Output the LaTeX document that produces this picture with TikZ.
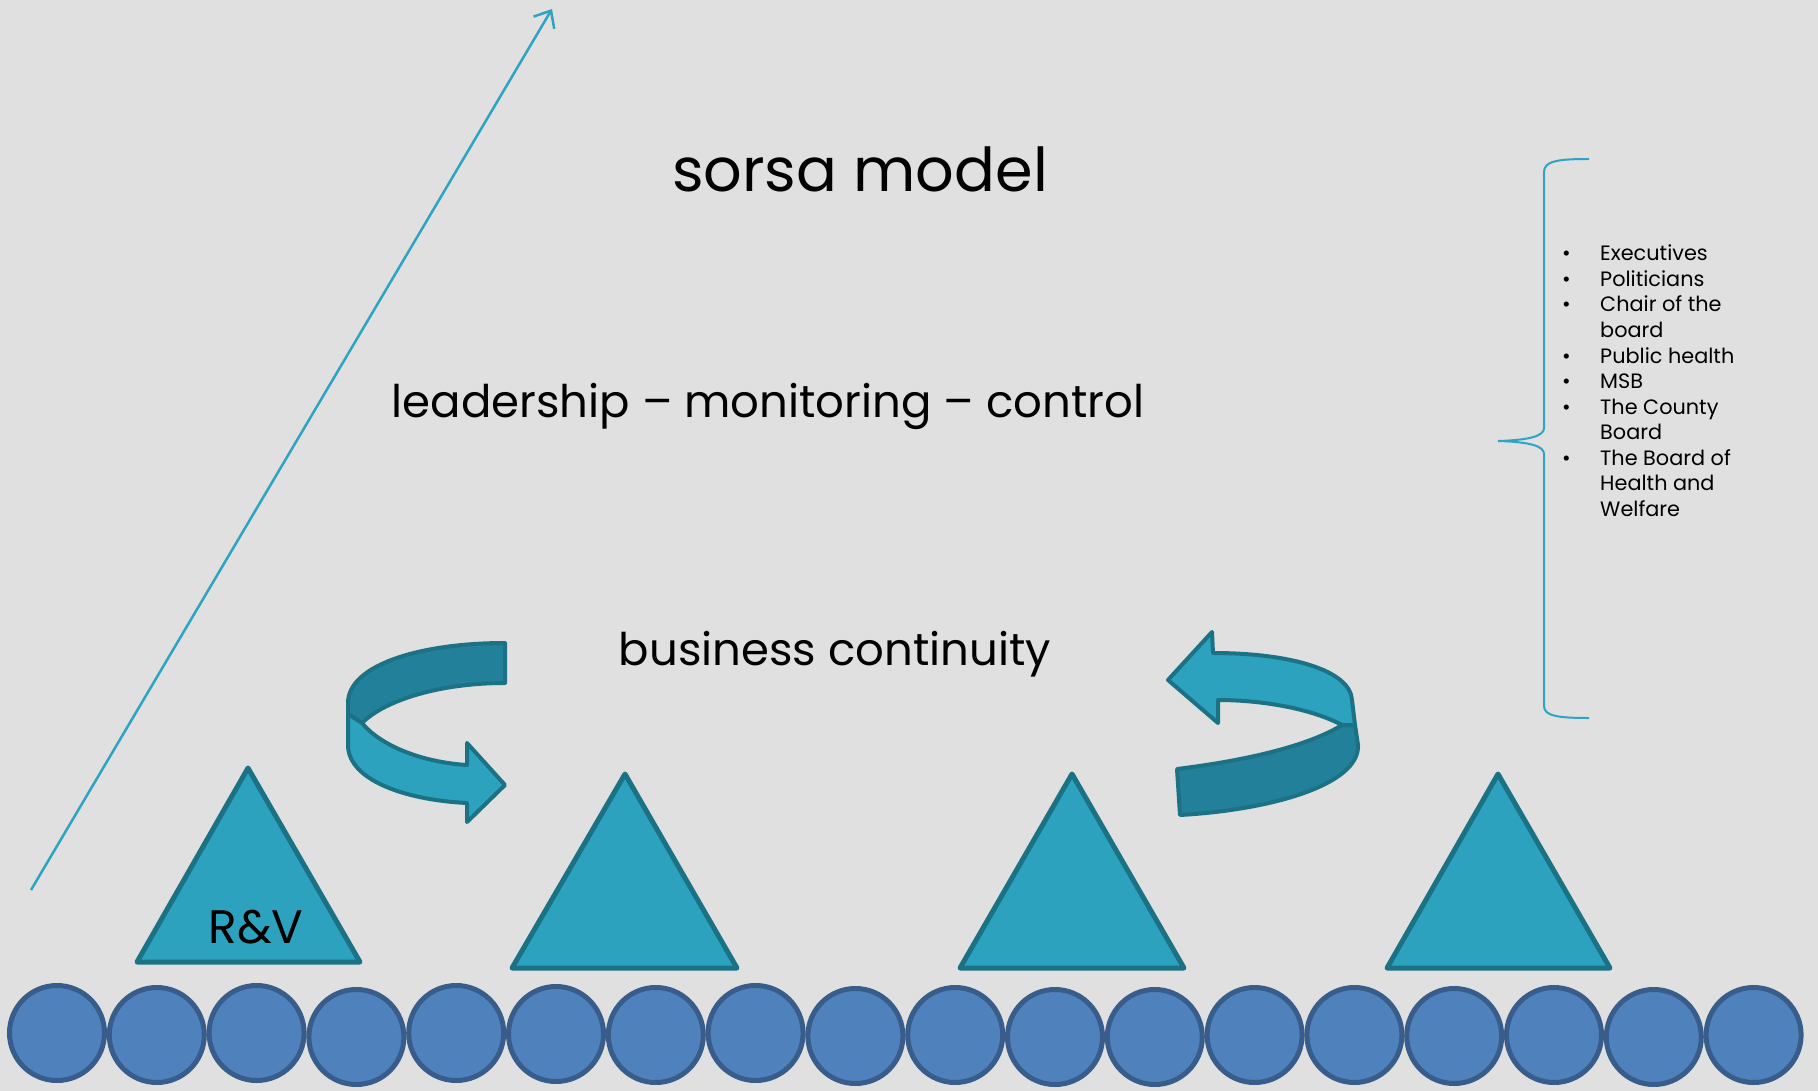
\documentclass[tikz,border=0pt]{standalone}
\usepackage{fontspec}
\setmainfont{Poppins}
\usetikzlibrary{arrows.meta}
\definecolor{bgc}{HTML}{E0E0E0}
\definecolor{tealA}{HTML}{2CA2BE}
\definecolor{tealD}{HTML}{23809A}
\definecolor{tealS}{HTML}{1C7285}
\definecolor{lineT}{HTML}{2EA3C2}
\definecolor{blueF}{HTML}{4F81BD}
\definecolor{blueS}{HTML}{385D8A}
\tikzset{
  tri/.style={fill=tealA, draw=tealS, line width=5pt, line join=round},
  band/.style={draw=tealS, line width=4pt, line join=round},
  dot/.style={circle, fill=blueF, draw=blueS, line width=5pt, minimum size=95pt, inner sep=0pt},
  bigtxt/.style={inner sep=0pt, anchor=base, font=\fontsize{45}{52}\selectfont},
  lst/.style={inner sep=0pt, anchor=base west, font=\fontsize{20.8}{24}\selectfont},
  brace/.style={draw=lineT, line width=2pt},
}
\begin{document}
\begin{tikzpicture}[x=1pt,y=-1pt]
\fill[bgc] (0,0) rectangle (1818,1091);
\useasboundingbox (0,0) rectangle (1818,1091);

% titles
\node[bigtxt, font=\fontsize{60.5}{70}\selectfont] (title) at (860,192) {sorsa model};
\node[bigtxt] (lead) at (768,417) {leadership – monitoring – control};
\node[bigtxt] (bc) at (835,665) {business continuity};

% rising arrow
\coordinate (a0) at (31,890);
\coordinate (a1) at (552,9);
\draw[lineT, line width=2.5pt, -{Straight Barb[length=14pt,width=24pt,line width=2.5pt]}] (a0) -- (a1);

% triangles
\draw[tri] (248,768) -- (360,962) -- (137,962) -- cycle;
\draw[tri] (625,774) -- (737,968) -- (512,968) -- cycle;
\draw[tri] (1072,774) -- (1184,968) -- (960,968) -- cycle;
\draw[tri] (1498,774) -- (1610,968) -- (1387,968) -- cycle;
\node[inner sep=0pt, anchor=base, font=\fontsize{47}{50}\selectfont] (rv) at (256,943) {R\&V};

% left curved arrow
\fill[tealD] (505,643) .. controls (420,643) and (348,665) .. (348,703) -- (348,714) -- (362,723) .. controls (385,700) and (440,683) .. (505,683) -- cycle;
\draw[band] (505,643) .. controls (420,643) and (348,665) .. (348,703) -- (348,714) -- (362,723) .. controls (385,700) and (440,683) .. (505,683) -- cycle;
\fill[tealA] (348,714) -- (348,745) .. controls (348,780) and (405,800) .. (467,803) -- (467,822) -- (505,785) -- (467,743) -- (467,765) .. controls (420,762) and (380,745) .. (362,723) -- cycle;
\draw[band] (348,714) -- (348,745) .. controls (348,780) and (405,800) .. (467,803) -- (467,822) -- (505,785) -- (467,743) -- (467,765) .. controls (420,762) and (380,745) .. (362,723) -- cycle;

% right curved arrow
\fill[tealD] (1342,725) -- (1355,725) -- (1358,745) .. controls (1360,785) and (1270,810) .. (1180,815) -- (1177,769) .. controls (1250,760) and (1310,745) .. (1342,725) -- cycle;
\draw[band] (1342,725) -- (1355,725) -- (1358,745) .. controls (1360,785) and (1270,810) .. (1180,815) -- (1177,769) .. controls (1250,760) and (1310,745) .. (1342,725) -- cycle;
\fill[tealA] (1213,653) .. controls (1290,653) and (1350,670) .. (1352,700) -- (1355,725) -- (1342,725) .. controls (1310,708) and (1260,700) .. (1218,700) -- (1218,723) -- (1168,680) -- (1212,632) -- cycle;
\draw[band] (1213,653) .. controls (1290,653) and (1350,670) .. (1352,700) -- (1355,725) -- (1342,725) .. controls (1310,708) and (1260,700) .. (1218,700) -- (1218,723) -- (1168,680) -- (1212,632) -- cycle;

% brace
\coordinate (b0) at (1589,159);
\coordinate (b1) at (1589,718);
\draw[brace] (b0) .. controls (1558,159) and (1544,161) .. (1544,172) -- (1544,428) .. controls (1544,436) and (1530,440) .. (1498,441) .. controls (1530,442) and (1544,446) .. (1544,454) -- (1544,706) .. controls (1544,716) and (1558,718) .. (b1);

% list
\foreach \k/\t/\b in {0/Executives/1, 1/Politicians/1, 2/Chair of the/1, 3/board/0, 4/Public health/1, 5/MSB/1, 6/The County/1, 7/Board/0, 8/The Board of/1, 9/Health and/0, 10/Welfare/0}{
  \node[lst] (l\k) at (1600,261+25.5*\k) {\t};
  \ifnum\b=1 \node[lst] (d\k) at (1562,261+25.5*\k) {•};\fi
}

% circles
\foreach \i/\dy in {0/0,1/2,2/0,3/4,4/0,5/1,6/2,7/0,8/3,9/2,10/4,11/4,12/2,13/2,14/3,15/2,16/4,17/2}{
  \node[dot] (c\i) at (57+99.8*\i,1033+\dy) {};
}
\end{tikzpicture}
\end{document}
